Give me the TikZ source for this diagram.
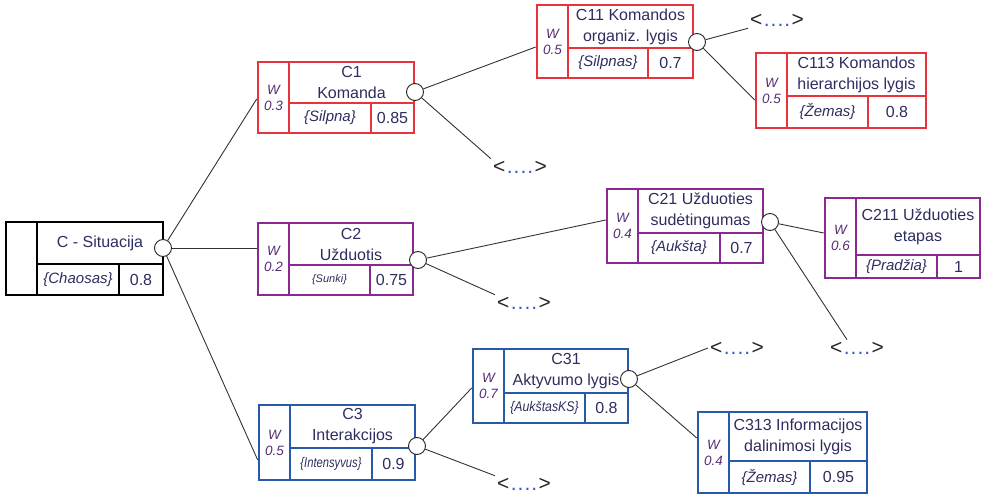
\documentclass[tikz,border=0pt]{standalone}
\usepackage{fontspec}
\setmainfont{Liberation Sans}
\usetikzlibrary{calc,fit}
\definecolor{cred}{RGB}{232,50,60}
\definecolor{cpurple}{RGB}{140,40,145}
\definecolor{cblue}{RGB}{40,90,170}
\definecolor{ctxt}{RGB}{45,45,95}
\definecolor{cw}{RGB}{85,45,115}
\definecolor{cdot}{RGB}{50,90,200}
\pgfdeclarelayer{back}
\pgfsetlayers{back,main}
\tikzset{
  boxframe/.style={draw, inner sep=0pt, line width=2.6pt},
  boxline/.style={line width=2.6pt},
  wlabel/.style={font=\fontsize{13.5}{16}\selectfont\itshape, text=cw, align=center, inner sep=0pt},
  titletext/.style={font=\fontsize{16}{21}\selectfont, text=ctxt, align=center, inner sep=0pt},
  statetext/.style={font=\fontsize{15}{18}\selectfont\itshape, text=ctxt, inner sep=0pt},
  valuetext/.style={font=\fontsize{16}{18}\selectfont, text=ctxt, inner sep=0pt},
  knot/.style={circle, draw=black!85, line width=0.9pt, fill=white, minimum size=17pt, inner sep=0pt},
  conn/.style={draw=black!80, line width=0.9pt},
  phold/.style={font=\fontsize{21}{21}\selectfont, inner sep=2pt, text=black!85},
}
\newcommand\phtext{<\kern1.5pt\textcolor{cdot}{.\kern1pt.\kern1pt.\kern1pt.}\kern1.5pt>}
\newcommand\cbox[8]{%
  \def\cbn{#1}\def\cbxa{#2}\def\cbya{#3}\def\cbxb{#4}\def\cbyb{#5}\def\cbhy{#6}\def\cbvx{#7}\def\cbcol{#8}\cboxtext}
\newcommand\cboxtext[4]{%
  \path (\cbxa,\cbya) coordinate (\cbn-nw) (\cbxb,\cbyb) coordinate (\cbn-se);
  \node[boxframe, draw=\cbcol, fit=(\cbn-nw)(\cbn-se)] (\cbn) {};
  \draw[boxline, draw=\cbcol] ({\cbxa+31},\cbya) -- ({\cbxa+31},\cbyb)
     ({\cbxa+31},\cbhy) -- (\cbxb,\cbhy) (\cbvx,\cbhy) -- (\cbvx,\cbyb);
  \node[wlabel] (\cbn-w) at ({\cbxa+15.5},{(\cbya+\cbyb)/2}) {#1};
  \node[titletext] (\cbn-t) at ({(\cbxa+31+\cbxb)/2},{(\cbya+\cbhy)/2}) {#2};
  \node[statetext] (\cbn-s) at ({(\cbxa+31+\cbvx)/2},{(\cbhy+\cbyb)/2}) {#3};
  \node[valuetext] (\cbn-v) at ({(\cbvx+\cbxb)/2},{(\cbhy+\cbyb)/2}) {#4};
}
\begin{document}
\begin{tikzpicture}[x=1pt,y=-1pt]
\useasboundingbox (0,0) rectangle (983,495);
% boxes
\cbox{c0}{6}{222}{163}{295}{264}{119}{black}{}{C - Situacija}{\{Chaosas\}}{0.8}
\cbox{c1}{258}{62}{414}{133}{103}{371}{cred}{W\\0.3}{C1\\Komanda}{\{Silpna\}}{0.85}
\cbox{c11}{537}{5}{693}{78}{48}{648}{cred}{W\\0.5}{C11 Komandos\\organiz. lygis}{\{Silpnas\}}{0.7}
\cbox{c113}{756}{53}{926}{128}{96}{868}{cred}{W\\0.5}{C113 Komandos\\hierarchijos lygis}{\{Žemas\}}{0.8}
\cbox{c2}{258}{223}{413}{295}{265}{370}{cpurple}{W\\0.2}{C2\\Užduotis}{{\fontsize{11}{12}\selectfont\{Sunki\}}}{0.75}
\cbox{c21}{607}{189}{763}{263}{233}{720}{cpurple}{W\\0.4}{C21 Užduoties\\sudėtingumas}{\{Aukšta\}}{0.7}
\cbox{c211}{825}{198}{980}{278}{255}{937}{cpurple}{W\\0.6}{C211 Užduoties\\etapas}{\{Pradžia\}}{1}
\cbox{c3}{259}{405}{415}{480}{448}{372}{cblue}{W\\0.5}{C3\\Interakcijos}{\scalebox{0.8}[1]{\fontsize{14}{16}\selectfont\{Intensyvus\}}}{0.9}
\cbox{c31}{473}{349}{628}{423}{393}{585}{cblue}{W\\0.7}{C31\\Aktyvumo lygis}{\scalebox{0.88}[1]{\fontsize{14}{16}\selectfont\{AukštasKS\}}}{0.8}
\cbox{c313}{698}{412}{867}{493}{461}{810}{cblue}{W\\0.4}{C313 Informacijos\\dalinimosi lygis}{\{Žemas\}}{0.95}
% knots
\node[knot] (c0o) at (163,248) {};
\node[knot] (c1o) at (415,92) {};
\node[knot] (c11o) at (697,42) {};
\node[knot] (c2o) at (418,260) {};
\node[knot] (c21o) at (770,222) {};
\node[knot] (c3o) at (417,446) {};
\node[knot] (c31o) at (629,379) {};
% placeholders
\node[phold] (p11) at (777,20) {\phtext};
\node[phold] (p1) at (520,167) {\phtext};
\node[phold] (p2) at (524,303) {\phtext};
\node[phold] (p21) at (857,348) {\phtext};
\node[phold] (p31) at (737,348) {\phtext};
\node[phold] (p3) at (524,484) {\phtext};
% entry points
\coordinate (c1in) at ([yshift=-1.5pt]c1.west);
\coordinate (c2in) at ([yshift=11pt]c2.west);
\coordinate (c3in) at ([yshift=-17.5pt]c3.west);
\coordinate (c11in) at ([yshift=-5.5pt]c11.west);
\coordinate (c113in) at ([yshift=-9.5pt]c113.west);
\coordinate (c21in) at ([yshift=6pt]c21.west);
\coordinate (c211in) at ([yshift=5pt]c211.west);
\coordinate (c31in) at ([yshift=-2pt]c31.west);
\coordinate (c313in) at ([yshift=14.5pt]c313.west);
\begin{pgfonlayer}{back}
\draw[conn] (c0o) -- (c1in);
\draw[conn] (c0o) -- (c2in);
\draw[conn] (c0o) -- (c3in);
\draw[conn] (c1o) -- (c11in);
\draw[conn] (c1o) -- (p1.north west);
\draw[conn] (c11o) -- (p11.south west);
\draw[conn] (c11o) -- (c113in);
\draw[conn] (c2o) -- (c21in);
\draw[conn] (c2o) -- (p2.north west);
\draw[conn] (c21o) -- (c211in);
\draw[conn] (c21o) -- ([xshift=-10pt]p21.north);
\draw[conn] (c3o) -- (c31in);
\draw[conn] (c3o) -- (p3.north west);
\draw[conn] (c31o) -- (p31.west);
\draw[conn] (c31o) -- (c313in);
\end{pgfonlayer}
\end{tikzpicture}
\end{document}
